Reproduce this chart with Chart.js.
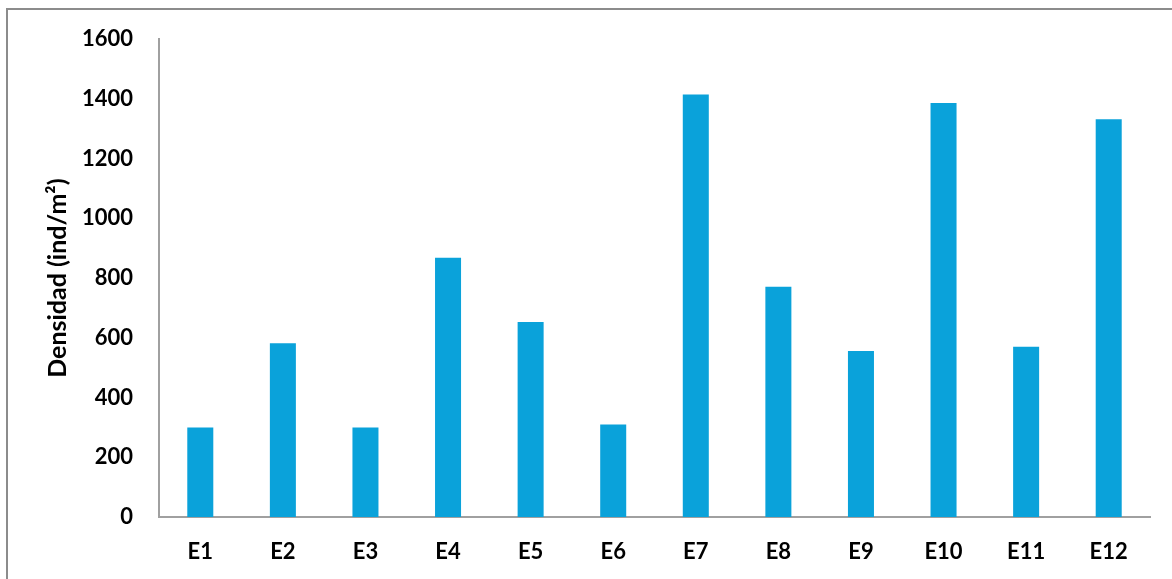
<!DOCTYPE html>
<html>
<head>
<meta charset="utf-8">
<script src="https://cdn.jsdelivr.net/npm/chart.js@4/dist/chart.umd.min.js"></script>
<style>
  body { margin: 0; background: #fff; }
  #frame { position: absolute; left: 6px; top: 8px; width: 1300px; height: 700px;
           border-left: 2px solid #8c8c8c; border-top: 2px solid #8c8c8c; }
  #wrap { position: absolute; left: 0; top: 0; width: 1172px; height: 579px; }
</style>
</head>
<body>
<div id="frame"></div>
<div id="wrap"><canvas id="myChart"></canvas></div>
<script>
'use strict';

const estaciones = ['E1', 'E2', 'E3', 'E4', 'E5', 'E6', 'E7', 'E8', 'E9', 'E10', 'E11', 'E12'];
const densidad = [300, 582, 300, 868, 653, 310, 1415, 771, 556, 1386, 570, 1332];
const yTicks = [0, 200, 400, 600, 800, 1000, 1200, 1400, 1600];

const labelFont = { family: 'Lato', weight: 'bold', size: 22 };
const axisColor = '#a0a0a0';

const chartDiv = document.getElementById('myChart');
const myChartInstance = new Chart(chartDiv, {
  type: 'bar',
  data: {
    labels: estaciones,
    datasets: [{
      label: 'Densidad',
      data: densidad,
      backgroundColor: '#0aa2da',
      borderWidth: 0,
      categoryPercentage: 1,
      barPercentage: 0.315
    }]
  },
  options: {
    responsive: true,
    maintainAspectRatio: false,
    animation: false,
    layout: { padding: { top: 37, right: 22, left: 0, bottom: 0 } },
    plugins: {
      legend: { display: false },
      tooltip: { enabled: false }
    },
    scales: {
      x: {
        grid: { display: false, drawTicks: false },
        border: { display: true, color: axisColor, width: 2 },
        ticks: { color: '#000', font: labelFont, padding: 22, maxRotation: 0 },
        afterFit: (scale) => { scale.height = 62; }
      },
      y: {
        min: 0,
        max: 1600,
        afterBuildTicks: (scale) => { scale.ticks = yTicks.map(v => ({ value: v })); },
        grid: { display: false, drawTicks: false },
        border: { display: true, color: axisColor, width: 2 },
        ticks: { color: '#000', font: labelFont, padding: 26, callback: (v) => String(v) },
        title: {
          display: true,
          text: 'Densidad (ind/m²)',
          color: '#000',
          font: { family: 'Lato', weight: 'bold', size: 25 },
          padding: { top: 43, bottom: 0 }
        },
        afterFit: (scale) => { scale.width = 159; }
      }
    }
  }
});
</script>
</body>
</html>
